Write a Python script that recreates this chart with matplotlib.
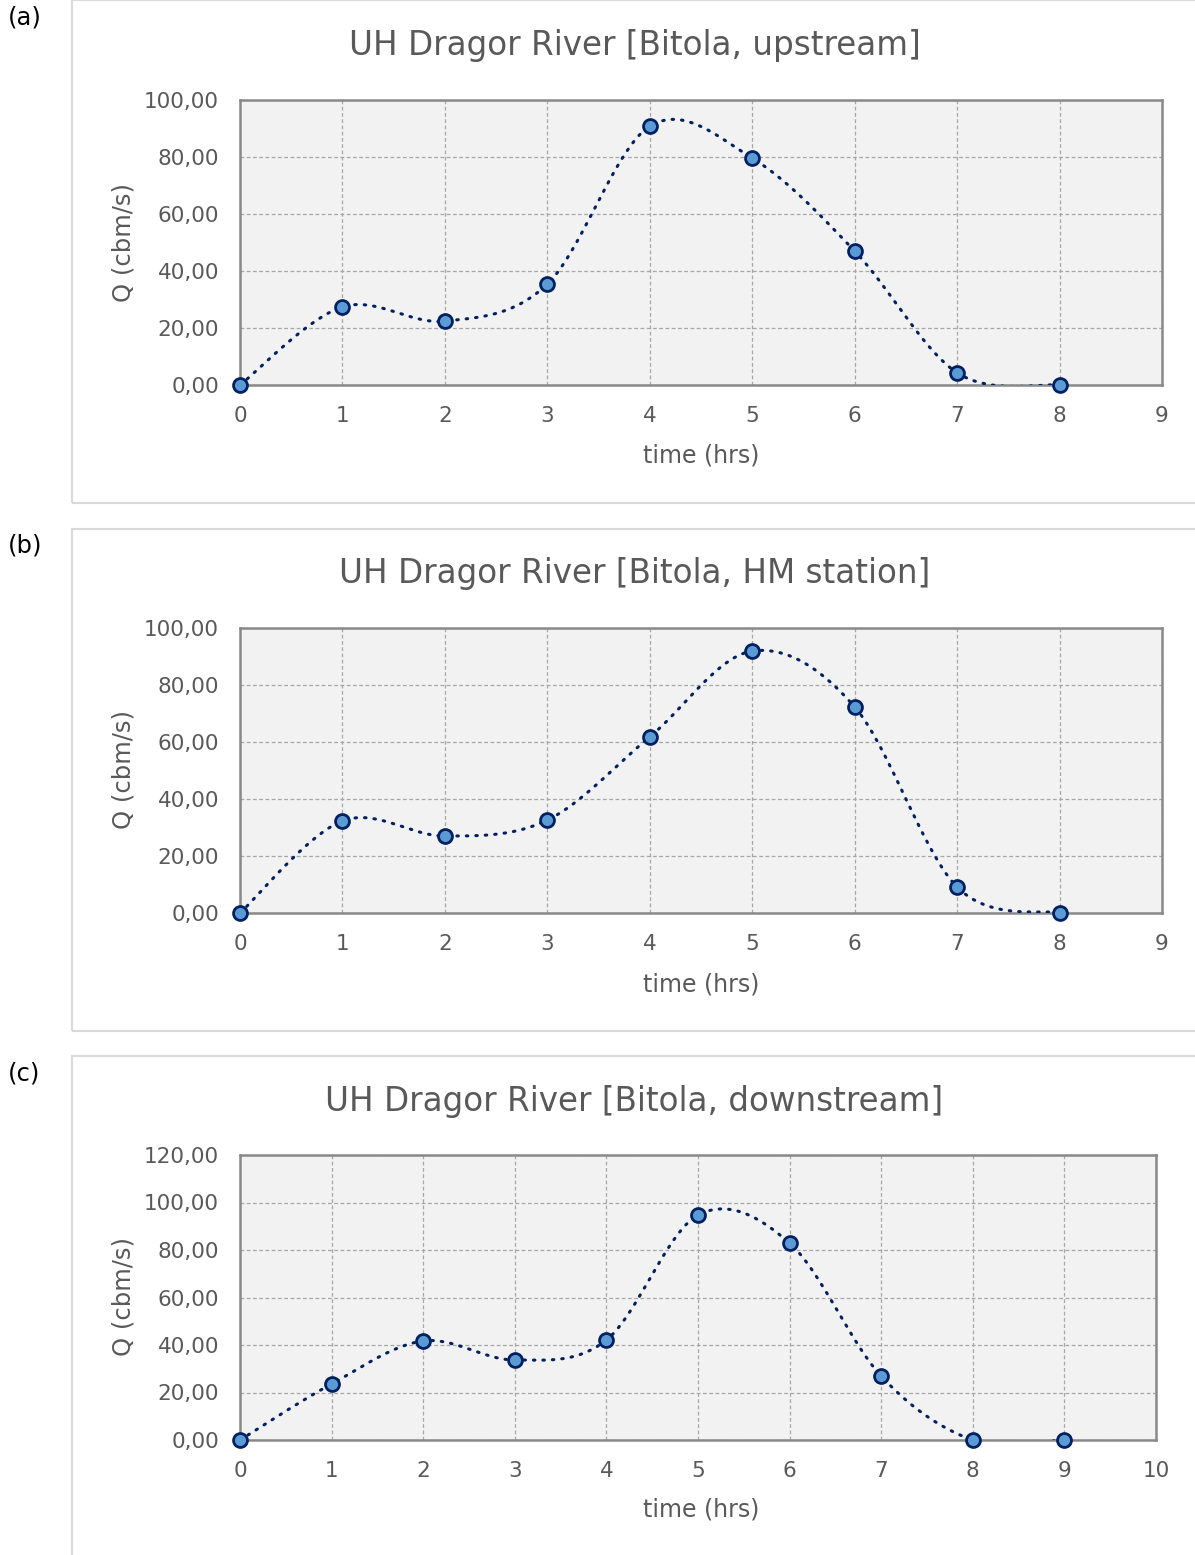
import numpy as np
import matplotlib
matplotlib.use("Agg")
import matplotlib.pyplot as plt
from matplotlib.patches import Rectangle

# ---- data ----
time_a = [0, 1, 2, 3, 4, 5, 6, 7, 8]
q_a = [0.0, 27.4, 22.4, 35.4, 90.8, 79.6, 47.0, 4.3, 0.0]
time_b = [0, 1, 2, 3, 4, 5, 6, 7, 8]
q_b = [0.0, 32.3, 27.0, 32.6, 61.8, 91.9, 72.3, 9.1, 0.0]
time_c = [0, 1, 2, 3, 4, 5, 6, 7, 8, 9]
q_c = [0.0, 23.6, 41.7, 33.7, 42.1, 94.7, 82.9, 26.9, 0.0, 0.0]

titles = ["UH Dragor River [Bitola, upstream]",
          "UH Dragor River [Bitola, HM station]",
          "UH Dragor River [Bitola, downstream]"]
panel_labels = ["(a)", "(b)", "(c)"]
xmax_list = [9, 9, 10]
ymax_list = [100, 100, 120]

W, H = 1195, 1555
plt.rcParams['font.family'] = ['DejaVu Sans']
fig = plt.figure(figsize=(W / 100, H / 100), dpi=100)

TXT = "#595959"


def smooth(x, y, n=40):
    x = np.asarray(x, float)
    y = np.asarray(y, float)
    xs, ys = [], []
    m = len(x)
    for i in range(m - 1):
        p0 = np.array([x[max(i - 1, 0)], y[max(i - 1, 0)]])
        p1 = np.array([x[i], y[i]])
        p2 = np.array([x[i + 1], y[i + 1]])
        p3 = np.array([x[min(i + 2, m - 1)], y[min(i + 2, m - 1)]])
        c1 = p1 + (p2 - p0) / 6.0
        c2 = p2 - (p3 - p1) / 6.0
        t = np.linspace(0, 1, n)[:, None]
        pts = ((1 - t) ** 3) * p1 + 3 * ((1 - t) ** 2) * t * c1 + 3 * (1 - t) * t ** 2 * c2 + t ** 3 * p2
        xs.append(pts[:, 0])
        ys.append(pts[:, 1])
    return np.concatenate(xs), np.concatenate(ys)


def fx(px):
    return px / W


def fy(py):
    return 1 - py / H


panels = [
    dict(t=time_a, q=q_a, box=(0, 503), ax=(240, 1162, 100, 385), title_y=46, xl_y=456, yl_y=242, lab_y=18),
    dict(t=time_b, q=q_b, box=(529, 1031), ax=(240, 1162, 628, 913), title_y=574, xl_y=984, yl_y=770, lab_y=546),
    dict(t=time_c, q=q_c, box=(1056, 1560), ax=(240, 1156, 1155, 1440), title_y=1102, xl_y=1510, yl_y=1297, lab_y=1074),
]

for k, p in enumerate(panels):
    # outer chart border
    b0, b1 = p["box"]
    fig.patches.append(Rectangle((fx(72), fy(b1)), fx(1200 - 72), (b1 - b0) / H,
                                 transform=fig.transFigure, fill=False,
                                 edgecolor="#d9d9d9", linewidth=1.5))
    fig.text(fx(8), fy(p["lab_y"]), panel_labels[k], fontsize=17.5, color="black",
             ha="left", va="center")
    fig.text(fx(634.5), fy(p["title_y"]), titles[k], fontsize=23.5, color=TXT,
             ha="center", va="center")

    x0, x1, yt, yb = p["ax"]
    ax = fig.add_axes([fx(x0), fy(yb), (x1 - x0) / W, (yb - yt) / H])
    ax.set_facecolor("#f2f2f2")
    xmax = xmax_list[k]
    ymax = ymax_list[k]
    ax.set_xlim(0, xmax)
    ax.set_ylim(0, ymax)
    ax.set_xticks(range(0, xmax + 1))
    yt_vals = list(range(0, ymax + 1, 20))
    ax.set_yticks(yt_vals)
    ax.set_yticklabels([f"{v:.2f}".replace(".", ",") for v in yt_vals])
    ax.tick_params(length=0, labelsize=15.5, labelcolor=TXT)
    ax.tick_params(axis="x", pad=15)
    ax.tick_params(axis="y", pad=15)
    ax.grid(True, color="#a6a6a6", linestyle=(0, (3, 2)), linewidth=0.9)
    ax.set_axisbelow(True)
    for s in ax.spines.values():
        s.set_color("#898989")
        s.set_linewidth(1.8)

    sx, sy = smooth(p["t"], p["q"])
    ax.plot(sx, sy, color="#002060", linestyle=(0, (0.5, 2.6)), linewidth=2.2,
            dash_capstyle="round", zorder=3)
    ax.plot(p["t"], p["q"], linestyle="none", marker="o", markersize=10,
            markerfacecolor="#5b9bd5", markeredgecolor="#002060",
            markeredgewidth=2, zorder=4, clip_on=False)

    fig.text(fx(701), fy(p["xl_y"]), "time (hrs)", fontsize=17, color=TXT,
             ha="center", va="center")
    fig.text(fx(123), fy(p["yl_y"]), "Q (cbm/s)", fontsize=17.5, color=TXT,
             ha="center", va="center", rotation=90)

fig.savefig("out.png", dpi=100)
